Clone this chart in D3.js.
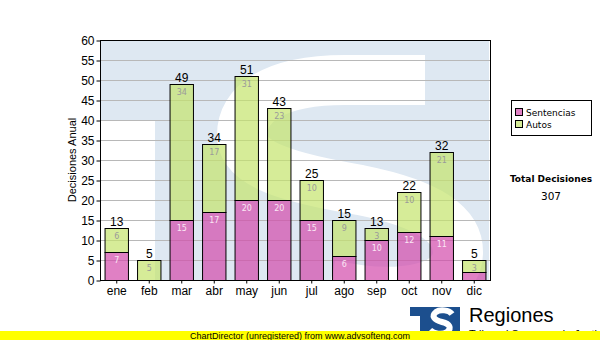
<!DOCTYPE html>
<html>
<head>
<meta charset="utf-8">
<script src="https://cdn.jsdelivr.net/npm/d3@7"></script>
<style>
  body { margin: 0; background: #fff; }
  svg { display: block; }
</style>
</head>
<body>
<svg id="chart" width="600" height="340"></svg>
<script>
// Monthly decisions, stacked by type
const months = ["ene", "feb", "mar", "abr", "may", "jun", "jul", "ago", "sep", "oct", "nov", "dic"];
const sentencias = [7, 0, 15, 17, 20, 20, 15, 6, 10, 12, 11, 2];
const autos = [6, 5, 34, 17, 31, 23, 10, 9, 3, 10, 21, 3];
const seriesNames = ["Sentencias", "Autos"];
const yTicks = [0, 5, 10, 15, 20, 25, 30, 35, 40, 45, 50, 55, 60];
const yTitle = "Decisiones Anual";
const totalTitle = "Total Decisiones";

const colors = { Sentencias: "#d34aab", Autos: "#c4e46c" };
const labelColors = { Sentencias: "#fbe6f4", Autos: "#9a9a9a" };

const svg = d3.select("#chart");
const plot = { left: 100, right: 490, top: 40, bottom: 280 };

const rows = months.map((m, i) => ({ month: m, Sentencias: sentencias[i], Autos: autos[i] }));
const stacked = d3.stack().keys(seriesNames)(rows);

const x = d3.scaleBand().domain(months).range([plot.left, plot.right])
  .paddingInner(0.28).paddingOuter(0.14);
const y = d3.scaleLinear().domain([0, 60]).range([plot.bottom, plot.top]);

// Plot background with the faint logo watermark
svg.append("clipPath").attr("id", "plotClip").append("rect")
  .attr("x", plot.left + 1).attr("y", plot.top + 1)
  .attr("width", plot.right - plot.left - 2).attr("height", plot.bottom - plot.top - 1);
const bg = svg.append("g").attr("clip-path", "url(#plotClip)");
bg.append("rect").attr("x", plot.left).attr("y", plot.top)
  .attr("width", plot.right - plot.left).attr("height", plot.bottom - plot.top)
  .attr("fill", "#dee8f2");
bg.append("rect").attr("x", plot.left).attr("y", 120)
  .attr("width", 55).attr("height", 170).attr("fill", "#fff");
bg.append("path")
  .attr("d", "M 425,80 L 345,80 C 272,80 242,105 242,135 C 242,165 290,178 360,190 C 430,204 458,225 458,252 C 458,290 400,300 330,285")
  .attr("fill", "none").attr("stroke", "#fff").attr("stroke-width", 50);

// Horizontal grid lines
svg.append("g").selectAll("line").data(yTicks.filter(t => t > 0 && t < 60)).join("line")
  .attr("x1", plot.left).attr("x2", plot.right)
  .attr("y1", d => y(d) + 0.5).attr("y2", d => y(d) + 0.5)
  .attr("stroke", "#b8b8b8").attr("stroke-width", 1);

// Stacked bars
const layers = svg.append("g").selectAll("g").data(stacked).join("g");
layers.selectAll("rect").data(d => d.map(v => ({ key: d.key, v }))).join("rect")
  .attr("x", d => x(d.v.data.month) + 0.5)
  .attr("y", d => y(d.v[1]) + 0.5)
  .attr("width", x.bandwidth())
  .attr("height", d => y(d.v[0]) - y(d.v[1]))
  .attr("fill", d => colors[d.key])
  .attr("fill-opacity", 0.7)
  .attr("stroke", d => (d.v[1] - d.v[0]) > 0 ? "#000" : "none")
  .attr("stroke-width", 1);

// Segment value labels
layers.selectAll("text").data(d => d.map(v => ({ key: d.key, v }))
    .filter(d => (y(d.v[0]) - y(d.v[1])) >= 11)).join("text")
  .attr("x", d => x(d.v.data.month) + x.bandwidth() / 2 + 0.5)
  .attr("y", d => y(d.v[1]) + 11)
  .attr("text-anchor", "middle")
  .attr("font-family", "DejaVu Sans, Verdana, sans-serif")
  .attr("font-size", 8)
  .attr("fill", d => labelColors[d.key])
  .text(d => d.v[1] - d.v[0]);

// Totals above bars
svg.append("g").selectAll("text").data(rows).join("text")
  .attr("x", d => x(d.month) + x.bandwidth() / 2 + 0.5)
  .attr("y", d => y(d.Sentencias + d.Autos) - 2)
  .attr("text-anchor", "middle")
  .attr("font-family", "Liberation Sans, Arial, sans-serif")
  .attr("font-size", 12)
  .attr("fill", "#000")
  .text(d => d.Sentencias + d.Autos);

// Plot frame
svg.append("rect").attr("x", plot.left + 0.5).attr("y", plot.top + 0.5)
  .attr("width", plot.right - plot.left).attr("height", plot.bottom - plot.top)
  .attr("fill", "none").attr("stroke", "#000");

// Axes
const yAxis = svg.append("g").attr("transform", `translate(${plot.left + 0.5},0.5)`)
  .call(d3.axisLeft(y).tickValues(yTicks).tickSize(4).tickPadding(2));
const xAxis = svg.append("g").attr("transform", `translate(0.5,${plot.bottom + 0.5})`)
  .call(d3.axisBottom(x).tickSize(3).tickPadding(3));
[yAxis, xAxis].forEach(a => {
  a.select(".domain").remove();
  a.selectAll("text").attr("font-family", "Liberation Sans, Arial, sans-serif")
    .attr("font-size", 12).attr("fill", "#000");
  a.selectAll("line").attr("stroke", "#000");
});

svg.append("text")
  .attr("transform", `translate(76,${(plot.top + plot.bottom) / 2}) rotate(-90)`)
  .attr("text-anchor", "middle")
  .attr("font-family", "Liberation Sans, Arial, sans-serif")
  .attr("font-size", 11)
  .text(yTitle);

// Legend
const legend = svg.append("g");
legend.append("rect").attr("x", 511.5).attr("y", 100.5).attr("width", 80).attr("height", 35)
  .attr("fill", "#fff").attr("stroke", "#000");
seriesNames.forEach((name, i) => {
  legend.append("rect").attr("x", 515.5).attr("y", 108.5 + i * 12).attr("width", 7).attr("height", 7)
    .attr("fill", colors[name]).attr("fill-opacity", 0.7).attr("stroke", "#000");
  legend.append("text").attr("x", 526).attr("y", 116 + i * 12)
    .attr("font-family", "DejaVu Sans, Verdana, sans-serif").attr("font-size", 9)
    .text(name);
});

// Grand total
const grandTotal = d3.sum(sentencias) + d3.sum(autos);
svg.append("text").attr("x", 551).attr("y", 182).attr("text-anchor", "middle")
  .attr("font-family", "DejaVu Sans, Verdana, sans-serif").attr("font-size", 9)
  .attr("font-weight", "bold").text(totalTitle);
svg.append("text").attr("x", 551).attr("y", 200).attr("text-anchor", "middle")
  .attr("font-family", "DejaVu Sans, Verdana, sans-serif").attr("font-size", 10.5)
  .text(grandTotal);

// Logo block: blue T with a white S
const logo = svg.append("g");
logo.append("rect").attr("x", 410).attr("y", 307).attr("width", 50).attr("height", 26).attr("fill", "#1c4f8e");
logo.append("rect").attr("x", 410).attr("y", 316).attr("width", 10).attr("height", 20).attr("fill", "#fff");
logo.append("path")
  .attr("d", "M 452,314 C 449,310 440,309 436,312 C 431,316 434,320 442,322 C 450,324 452,328 447,332 C 442,335 434,334 430,330")
  .attr("fill", "none").attr("stroke", "#fff").attr("stroke-width", 6);
logo.append("text").attr("x", 469).attr("y", 322)
  .attr("font-family", "Liberation Sans, Arial, sans-serif").attr("font-size", 20).text("Regiones");
logo.append("text").attr("x", 469).attr("y", 338)
  .attr("font-family", "Liberation Sans, Arial, sans-serif").attr("font-size", 11).text("Tribunal Supremo de Justicia");

// Footer banner
svg.append("rect").attr("x", 0).attr("y", 331).attr("width", 600).attr("height", 9).attr("fill", "#ffff00");
svg.append("text").attr("x", 300).attr("y", 339).attr("text-anchor", "middle")
  .attr("font-family", "Liberation Sans, Arial, sans-serif").attr("font-size", 9)
  .text("ChartDirector (unregistered) from www.advsofteng.com");
</script>
</body>
</html>
